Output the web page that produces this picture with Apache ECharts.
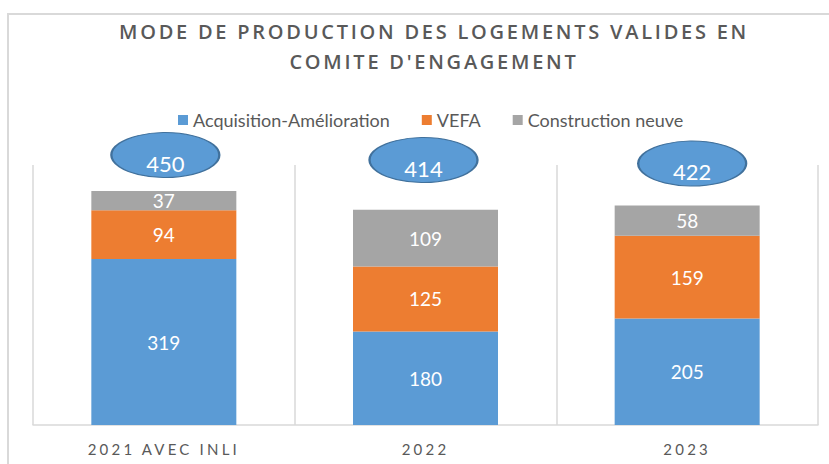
<!DOCTYPE html>
<html>
<head>
<meta charset="utf-8">
<script src="https://cdn.jsdelivr.net/npm/echarts@6/dist/echarts.min.js"></script>
<style>
  html, body { margin: 0; padding: 0; background: #fff; }
  #chart { width: 829px; height: 464px; }
</style>
</head>
<body>
<div id="chart"></div>
<script>
// données
const categories = ['2021 AVEC INLI', '2022', '2023']
const acquisition = [319, 180, 205]
const vefa = [94, 125, 159]
const construction = [37, 109, 58]
const totals = [450, 414, 422]

const titleLines = ['MODE DE PRODUCTION DES LOGEMENTS VALIDES EN', "COMITE D'ENGAGEMENT"]

const FONT = 'Lato'
const GREY_TEXT = '#595959'

const chart = echarts.init(document.getElementById('chart'), null, { renderer: 'svg' })

// petit décalage des bulles (placées à la main dans l'original)
const bubbleShift = [[1.5, -4.5], [-2, 0.5], [5, 4]]

function barSerie(name, data, color) {
  return {
    name: name,
    type: 'bar',
    stack: 'total',
    barWidth: 145,
    itemStyle: { color: color },
    label: {
      show: true,
      position: 'inside',
      color: '#fff',
      fontFamily: FONT,
      fontSize: 19
    },
    data: data
  }
}

chart.setOption({
  animation: false,
  title: {
    text: titleLines.join('\n'),
    left: 429,
    top: 11,
    textAlign: 'center',
    textStyle: {
      color: GREY_TEXT,
      fontFamily: 'Open Sans',
      fontWeight: 600,
      fontSize: 20,
      lineHeight: 30
    }
  },
  legend: {
    left: 173,
    top: 106,
    icon: 'rect',
    itemWidth: 10,
    itemHeight: 10,
    itemGap: 32,
    textStyle: { color: GREY_TEXT, fontFamily: FONT, fontSize: 18 },
    data: ['Acquisition-Amélioration', 'VEFA', 'Construction neuve']
  },
  grid: { left: 33, right: 11, top: 165, bottom: 39 },
  xAxis: {
    type: 'category',
    data: categories,
    axisTick: { show: false },
    axisLine: { lineStyle: { color: '#d9d9d9', width: 1.5 } },
    splitLine: { show: true, lineStyle: { color: '#d9d9d9', width: 1.5 } },
    axisLabel: { color: GREY_TEXT, fontFamily: FONT, fontSize: 15, margin: 16 }
  },
  yAxis: {
    type: 'value',
    min: 0,
    max: 500,
    show: false,
    splitLine: { show: false }
  },
  graphic: [{
    type: 'rect',
    shape: { x: 8, y: 14, width: 900, height: 600 },
    style: { fill: 'none', stroke: '#d9d9d9', lineWidth: 2 },
    silent: true
  }],
  series: [
    barSerie('Acquisition-Amélioration', acquisition, '#5B9BD5'),
    barSerie('VEFA', vefa, '#ED7D31'),
    barSerie('Construction neuve', construction, '#A5A5A5'),
    {
      name: 'Total',
      type: 'scatter',
      clip: false,
      symbol: 'circle',
      symbolSize: [108, 45],
      itemStyle: { color: '#5B9BD5', borderColor: '#41719C', borderWidth: 1.5, opacity: 1 },
      label: {
        show: true,
        position: 'inside',
        offset: [0, 8],
        color: '#fff',
        fontFamily: FONT,
        fontSize: 22,
        formatter: p => totals[p.dataIndex]
      },
      data: totals.map((t, i) => ({ value: [i, 510.5], symbolOffset: bubbleShift[i] }))
    }
  ]
})

// espacement des lettres (titre et étiquettes d'axe) comme dans l'original
const spaced = { }
titleLines.forEach(t => { spaced[t] = '2.75px' })
categories.forEach(c => { spaced[c] = '3.2px' })
function applySpacing() {
  document.querySelectorAll('#chart text').forEach(el => {
    const ls = spaced[el.textContent]
    if (ls) el.style.letterSpacing = ls
  })
}
chart.on('finished', applySpacing)
applySpacing()
</script>
</body>
</html>
